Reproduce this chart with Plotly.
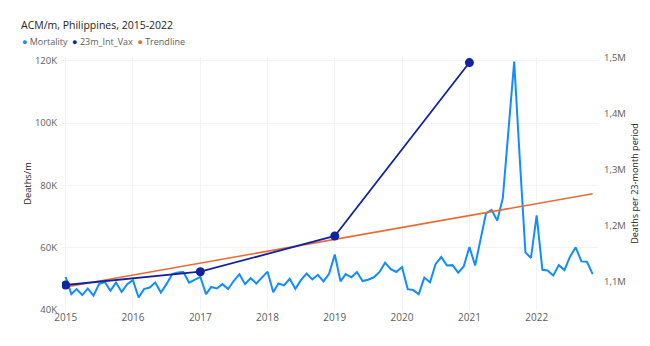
import pandas as pd
import plotly.graph_objects as go

# ---- data ----
mortality_k = [
    50.6, 45.1, 46.7, 44.8, 46.9, 44.6, 48.3, 49.0, 46.2, 48.8, 45.8, 48.3,   # 2015
    49.6, 44.0, 46.7, 47.2, 48.8, 45.6, 48.3, 51.5, 52.0, 52.2, 48.8, 49.8,   # 2016
    50.6, 45.1, 47.4, 46.9, 48.3, 46.7, 49.3, 51.5, 48.3, 50.2, 48.5, 50.4,   # 2017
    52.3, 45.7, 48.5, 47.9, 50.0, 46.8, 49.6, 51.7, 49.8, 51.3, 49.2, 51.6,   # 2018
    57.8, 49.2, 51.5, 50.5, 52.2, 49.3, 49.7, 50.5, 52.2, 55.2, 53.1, 52.2,   # 2019
    53.8, 46.7, 46.4, 45.1, 50.4, 48.9, 54.7, 57.0, 54.3, 54.4, 52.0, 54.0,   # 2020
    60.2, 54.3, 62.2, 71.0, 72.1, 68.7, 75.8, 97.7, 119.7, 88.8, 58.5, 56.7,  # 2021
    70.4, 52.9, 52.7, 51.1, 54.4, 52.8, 57.1, 60.1, 55.6, 55.5, 51.5,         # 2022
]
mortality = [v * 1000 for v in mortality_k]
mortality_dates = pd.date_range("2015-01-01", periods=len(mortality), freq="MS")

vax_dates = ["2015-01-01", "2017-01-01", "2019-01-01", "2021-01-01"]
vax_values = [1094100, 1117800, 1181500, 1490600]

trend_dates = ["2015-01-01", "2016-01-01", "2017-01-01", "2018-01-01", "2019-01-01",
               "2020-01-01", "2021-01-01", "2022-01-01", "2022-11-01"]
trend_k = [47.4, 51.2, 55.1, 58.9, 62.7, 66.5, 70.3, 74.1, 77.3]
trend_values = [v * 1000 for v in trend_k]

year_ticks = [f"{y}-01-01" for y in range(2015, 2023)]
year_labels = [str(y) for y in range(2015, 2023)]
left_ticks = [40000, 60000, 80000, 100000, 120000]
left_labels = ["40K", "60K", "80K", "100K", "120K"]
right_ticks = [1100000, 1200000, 1300000, 1400000, 1500000]
right_labels = ["1,1M", "1,2M", "1,3M", "1,4M", "1,5M"]

C_MORT = "#118DFF"
C_VAX = "#12239E"
C_TREND = "#E66C37"
FONT = "Open Sans"
GRAY = "#605E5C"
DARK = "#252423"

fig = go.Figure()
fig.add_trace(go.Scatter(x=mortality_dates, y=mortality, mode="lines", name="Mortality",
                         line=dict(color=C_MORT, width=2), yaxis="y"))
fig.add_trace(go.Scatter(x=trend_dates, y=trend_values, mode="lines", name="Trendline",
                         line=dict(color=C_TREND, width=1.6), yaxis="y"))
fig.add_trace(go.Scatter(x=vax_dates, y=vax_values, mode="lines+markers", name="23m_Int_Vax",
                         line=dict(color=C_VAX, width=1.8),
                         marker=dict(color=C_VAX, size=9), yaxis="y2"))

legend_text = (f"<span style='color:{C_MORT}'>●</span> Mortality&nbsp;&nbsp;"
               f"<span style='color:{C_VAX}'>●</span> 23m_Int_Vax&nbsp;&nbsp;"
               f"<span style='color:{C_TREND}'>●</span> Trendline")

fig.update_layout(
    width=650, height=346,
    margin=dict(l=62, r=50, t=57, b=36),
    paper_bgcolor="white", plot_bgcolor="white",
    showlegend=False,
    font=dict(family=FONT, color=GRAY),
    title=dict(text="ACM/m, Philippines, 2015-2022", xref="container", yref="container",
               x=21 / 650, xanchor="left", y=1 - 25 / 346, yanchor="middle",
               font=dict(family=FONT, size=10.5, color=DARK)),
    annotations=[dict(text=legend_text, xref="paper", yref="paper",
                      x=(20 - 62) / 538, xanchor="left",
                      y=1 + (57 - 42) / 253, yanchor="middle",
                      showarrow=False, font=dict(family=FONT, size=9, color=GRAY))],
    xaxis=dict(type="date", range=["2014-12-12", "2022-11-30"],
               tickvals=year_ticks, ticktext=year_labels,
               showgrid=True, gridcolor="#F3F3F3", gridwidth=1,
               zeroline=False, showline=False, ticks="",
               tickfont=dict(family=FONT, size=10, color=GRAY)),
    yaxis=dict(range=[40000, 121200], tickvals=left_ticks, ticktext=left_labels,
               showgrid=True, gridcolor="#F3F3F3", gridwidth=1,
               zeroline=False, showline=False, ticks="", ticklabelstandoff=4,
               tickfont=dict(family=FONT, size=9.5, color=GRAY),
               title=dict(text="Deaths/m", standoff=1,
                          font=dict(family=FONT, size=9.3, color=DARK))),
    yaxis2=dict(range=[1049550, 1500530], overlaying="y", side="right",
                tickvals=right_ticks, ticktext=right_labels,
                showgrid=False, zeroline=False, showline=False, ticks="",
                ticklabelstandoff=5,
                tickfont=dict(family=FONT, size=9.5, color=GRAY),
                title=dict(text="Deaths per 23-month period", standoff=6,
                           font=dict(family=FONT, size=9.1, color=DARK))),
)

fig.write_html("out.html")
